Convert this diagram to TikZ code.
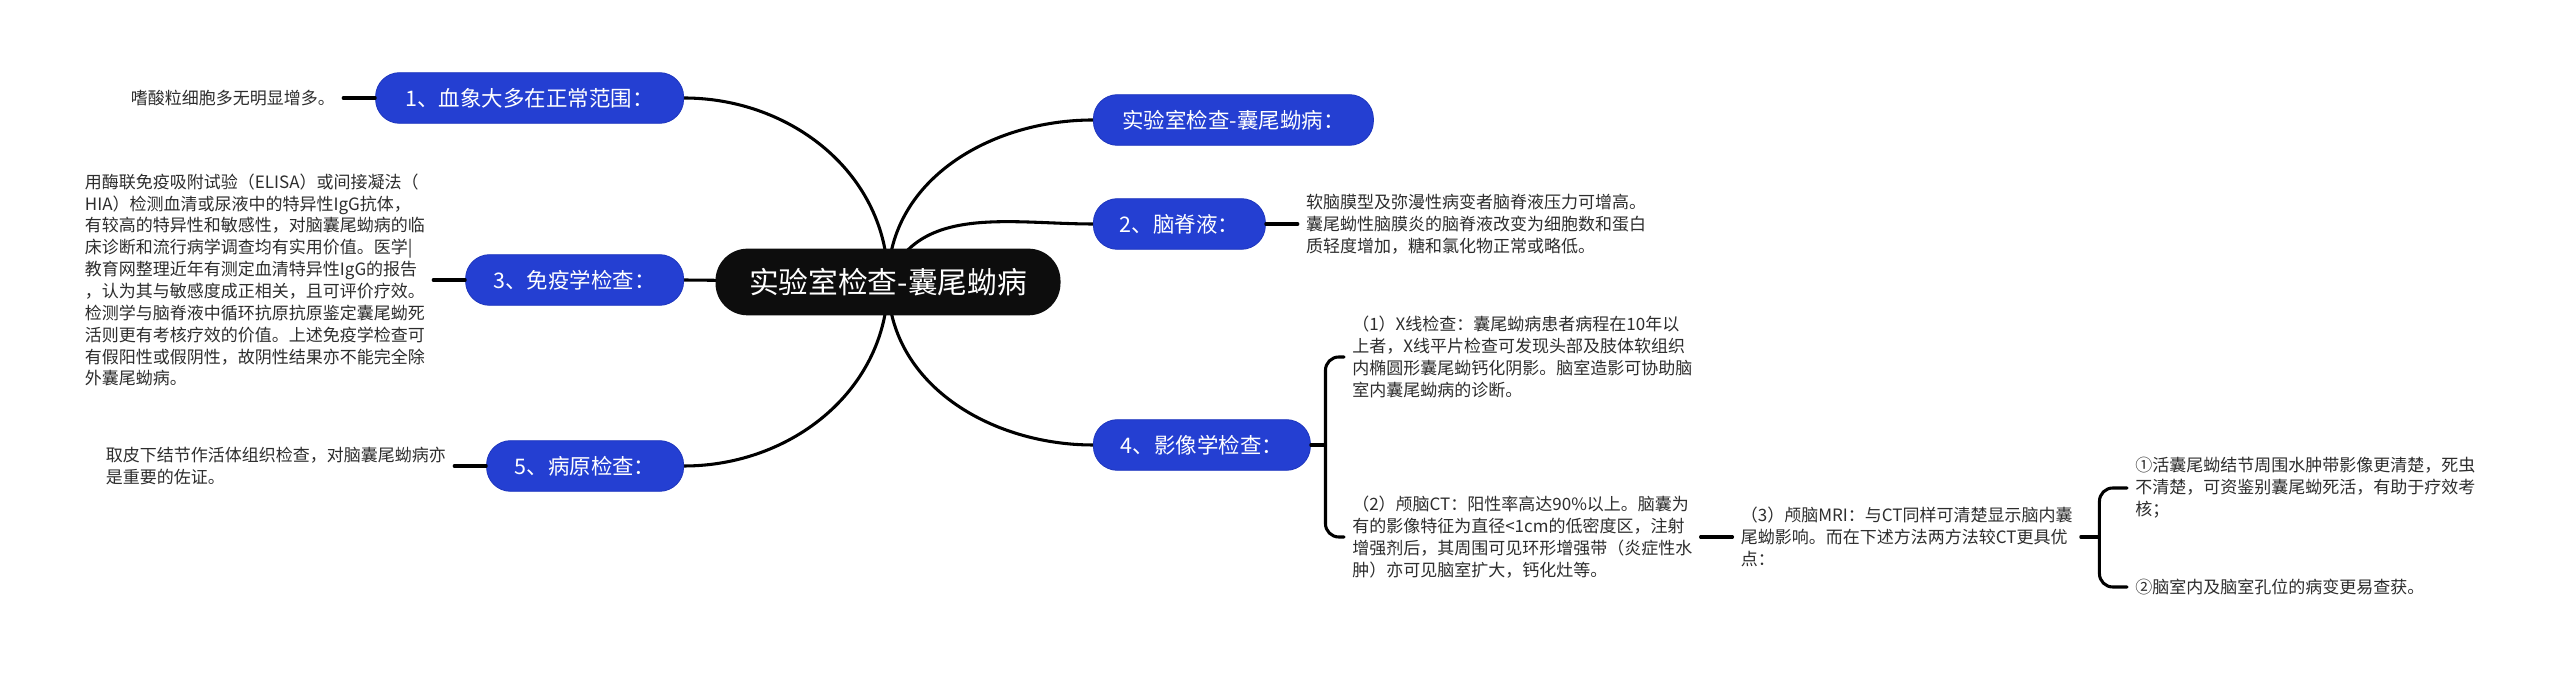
\documentclass[tikz,border=0pt]{standalone}
\usepackage{fontspec}
\newfontfamily\cjkfont{Noto Sans CJK SC}
\usetikzlibrary{positioning,backgrounds}
\definecolor{mapblue}{RGB}{36,63,210}
\definecolor{mapedge}{RGB}{30,54,190}
\definecolor{leafgray}{RGB}{45,45,45}
\begin{document}
\begin{tikzpicture}[x=0.75pt,y=0.75pt,line cap=round,line join=round,node distance=24pt,
  link/.style={black,line width=2.3pt},
  rootbox/.style={fill=black!95,text=white,rounded corners=24pt,minimum width=258.75pt,minimum height=50pt,inner sep=0pt,font={\cjkfont\fontsize{22.3}{26}\selectfont}},
  topic/.style={fill=mapblue,draw=mapedge,line width=0.6pt,text=white,rounded corners=18pt,minimum height=38pt,inner sep=0pt,font={\cjkfont\fontsize{16.1}{19}\selectfont}},
  leaf/.style={text=leafgray,align=left,inner xsep=6pt,inner ysep=2pt,font={\cjkfont\fontsize{12.75}{16.4}\selectfont}}]
\useasboundingbox (0,0) rectangle (2560,677);
\node[rootbox] (root) at (888,395) {实验室检查-囊尾蚴病};
\node[topic,anchor=east,minimum width=231pt] (blood) at (684,579) {1、血象大多在正常范围：};
\node[topic,anchor=east,minimum width=163.5pt] (immune) at (684,397) {3、免疫学检查：};
\node[topic,anchor=east,minimum width=147.75pt] (biopsy) at (684,211) {5、病原检查：};
\node[topic,anchor=west,minimum width=210pt] (labtitle) at (1093,557) {实验室检查-囊尾蚴病：};
\node[topic,anchor=west,minimum width=129pt] (csf) at (1093,453) {2、脑脊液：};
\node[topic,anchor=west,minimum width=162.75pt] (imaging) at (1093,232) {4、影像学检查：};
\node[leaf,left=of blood] (eosin) {嗜酸粒细胞多无明显增多。};
\node[leaf,left=of immune] (immunetext) {用酶联免疫吸附试验（ELISA）或间接凝法（\\HIA）检测血清或尿液中的特异性IgG抗体，\\有较高的特异性和敏感性，对脑囊尾蚴病的临\\床诊断和流行病学调查均有实用价值。医学|\\教育网整理近年有测定血清特异性IgG的报告\\，认为其与敏感度成正相关，且可评价疗效。\\检测学与脑脊液中循环抗原抗原鉴定囊尾蚴死\\活则更有考核疗效的价值。上述免疫学检查可\\有假阳性或假阴性，故阴性结果亦不能完全除\\外囊尾蚴病。};
\node[leaf,left=of biopsy] (biopsytext) {取皮下结节作活体组织检查，对脑囊尾蚴病亦\\是重要的佐证。};
\node[leaf,right=of csf] (csftext) {软脑膜型及弥漫性病变者脑脊液压力可增高。\\囊尾蚴性脑膜炎的脑脊液改变为细胞数和蛋白\\质轻度增加，糖和氯化物正常或略低。};
\node[leaf,anchor=west] (xray) at (1344,320) {（1）X线检查：囊尾蚴病患者病程在10年以\\上者，X线平片检查可发现头部及肢体软组织\\内椭圆形囊尾蚴钙化阴影。脑室造影可协助脑\\室内囊尾蚴病的诊断。};
\node[leaf,anchor=west] (ct) at (1344,140) {（2）颅脑CT：阳性率高达90\%以上。脑囊为\\有的影像特征为直径<1cm的低密度区，注射\\增强剂后，其周围可见环形增强带（炎症性水\\肿）亦可见脑室扩大，钙化灶等。};
\node[leaf,right=of ct] (mri) {（3）颅脑MRI：与CT同样可清楚显示脑内囊\\尾蚴影响。而在下述方法两方法较CT更具优\\点：};
\node[leaf,anchor=west] (live) at (2127,189) {①活囊尾蚴结节周围水肿带影像更清楚，死虫\\不清楚，可资鉴别囊尾蚴死活，有助于疗效考\\核；};
\node[leaf,anchor=west] (ventricle) at (2127,90) {②脑室内及脑室孔位的病变更易查获。};
\coordinate[right=11pt of imaging.east] (imgfork);
\coordinate[right=14pt of mri.east] (mrifork);
\begin{scope}[on background layer]
\fill[white] (0,0) rectangle (2560,677);
\draw[link] (root.center) to[out=90,in=0] (blood.east);
\draw[link] (root.center) to[out=90,in=180] (labtitle.west);
\draw[link] (root.center) to[out=70,in=180] (csf.west);
\draw[link] (root.center) -- (immune.east);
\draw[link] (root.center) to[out=-90,in=0] (biopsy.east);
\draw[link] (root.center) to[out=-90,in=180] (imaging.west);
\end{scope}
\draw[link] (blood.west) -- (eosin.east);
\draw[link] (immune.west) -- (immunetext.east);
\draw[link] (biopsy.west) -- (biopsytext.east);
\draw[link] (csf.east) -- (csftext.west);
\draw[link] (imaging.east) -- (imgfork);
\draw[link,rounded corners=10pt] (xray.west) -| (imgfork) |- (ct.west);
\draw[link] (ct.east) -- (mri.west);
\draw[link] (mri.east) -- (mrifork);
\draw[link,rounded corners=10pt] (live.west) -| (mrifork) |- (ventricle.west);
\end{tikzpicture}
\end{document}
